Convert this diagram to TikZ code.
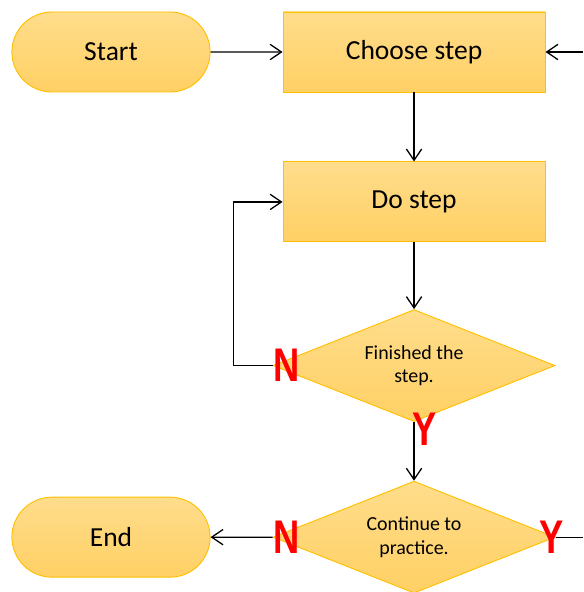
\documentclass[tikz,border=0pt]{standalone}
\usepackage{fontspec}
\setmainfont{Carlito}
\newfontfamily\markfont{Liberation Sans}
\usetikzlibrary{positioning, shapes.geometric, shapes.misc, arrows.meta}

\definecolor{boxfill}{RGB}{255,221,140}
\definecolor{boxfilldark}{RGB}{255,208,100}
\definecolor{boxline}{RGB}{255,192,0}
\definecolor{markred}{RGB}{255,0,0}

\tikzset{
  flow/.style={line width=1.1pt, -{Straight Barb[length=3.4mm, width=4.6mm, line width=1.1pt]}},
  shade/.style={top color=boxfill, bottom color=boxfilldark, draw=boxline, line width=0.8pt},
  terminal/.style={shade, rounded rectangle, minimum width=6.18cm, minimum height=2.4cm, font=\fontsize{23.5}{27}\selectfont},
  stepbox/.style={shade, rectangle, minimum width=7.86cm, minimum height=2.4cm, font=\fontsize{23.5}{27}\selectfont},
  decision/.style={shade, diamond, aspect=2.5, inner sep=0pt, minimum width=8.46cm, minimum height=3.36cm, align=center, font=\fontsize{17}{20}\selectfont},
  answer/.style={text=markred, font=\markfont\bfseries\fontsize{31}{31}\selectfont, inner sep=0pt}
}

\begin{document}
\begin{tikzpicture}
            \useasboundingbox (0,0) rectangle (17.49,-17.76);
            \node [terminal] (start) at (3.33,-1.56) {Start};
            \node [stepbox, right = 2.16cm of start] (choose) {Choose step};
            \node [stepbox, below = 2.07cm of choose] (do) {Do step};
            \node [decision, below = 2.0cm of do] (finished) {Finished the\\step.};
            \node [decision, below = 1.76cm of finished] (continue) {Continue to\\practice.};
            \node [terminal, left = 1.86cm of continue] (end) {End};
            \coordinate (edge) at (17.49,0);
            \coordinate (loopback) at ([xshift=-1.17cm]finished.west);
            \draw [flow] (start) -- (choose);
            \draw [flow] (choose.east -| edge) -- (choose);
            \draw [flow] (choose) -- (do);
            \draw [flow] (do) -- (finished);
            \draw [flow] (finished.west) -- (loopback) |- (do.west);
            \draw [flow] (finished) -- (continue);
            \draw [flow] (continue.west) -- (end);
            \draw [line width=1.1pt] (continue.east) -- (continue.east -| edge);
            \node [answer] (n1) at ([xshift=0.42cm]finished.west) {\scalebox{1}[1.3]{N}};
            \node [answer] (y1) at ([xshift=0.33cm, yshift=-0.22cm]finished.south) {\scalebox{1}[1.3]{Y}};
            \node [answer] (n2) at ([xshift=0.42cm]continue.west) {\scalebox{1}[1.3]{N}};
            \node [answer] (y2) at ([xshift=-0.12cm]continue.east) {\scalebox{1}[1.3]{Y}};
        \end{tikzpicture}
\end{document}
